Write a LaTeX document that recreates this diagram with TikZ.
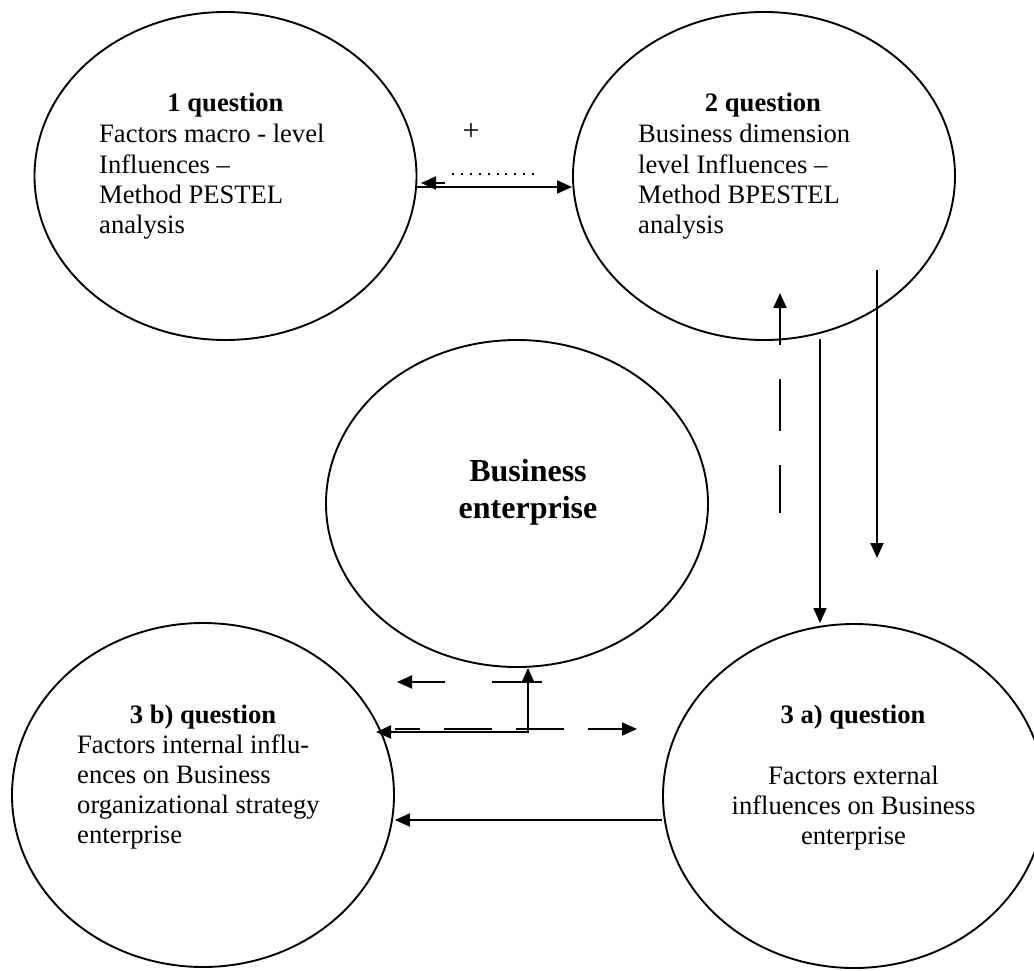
\documentclass[tikz,border=0pt]{standalone}
\usepackage{fontspec}
\setmainfont{Liberation Serif}
\usetikzlibrary{shapes.geometric,arrows.meta}
\newcommand{\bodyfs}{\fontsize{26.6}{30.3}\selectfont}
\begin{document}
\begin{tikzpicture}[x=1pt,y=-1pt,
  ell/.style={draw, ellipse, line width=1.9pt, inner sep=0pt, minimum width=382pt},
  tip/.style={-{Triangle[length=15pt,width=13pt]}},
  arr/.style={line width=1.9pt, tip},
  hd/.style={anchor=base, inner sep=0pt, font=\bodyfs\bfseries},
  bd/.style={anchor=base west, inner sep=0pt, font=\bodyfs},
  bdc/.style={anchor=base, inner sep=0pt, font=\bodyfs}]
\useasboundingbox (0,0) rectangle (1034,971);
\clip (0,0) rectangle (1034,971);
% ellipses
\node[ell, minimum height=328pt] (e1) at (225.5,176) {};
\node[ell, minimum height=328pt] (e2) at (764,176) {};
\node[ell, minimum height=327pt] (e3) at (517,503.5) {};
\node[ell, minimum height=344pt] (e4) at (203,795) {};
\node[ell, minimum height=344pt] (e5) at (854,796) {};
% texts
\node[hd] (h1) at (225.5,112) {1 question};
\node[bd] (t1) at (99,143) {\begin{tabular}[t]{@{}l@{}}Factors macro - level\\Influences --\\Method PESTEL\\analysis\end{tabular}};
\node[hd] (h2) at (763,112) {2 question};
\node[bd] (t2) at (638,143) {\begin{tabular}[t]{@{}l@{}}Business dimension\\level Influences --\\Method BPESTEL\\analysis\end{tabular}};
\node[anchor=base, inner sep=0pt, font=\fontsize{32}{37}\selectfont\bfseries] (t3) at (528,481) {\begin{tabular}[t]{@{}c@{}}Business\\enterprise\end{tabular}};
\node[hd] (h4) at (203,723) {3 b) question};
\node[bd] (t4) at (77,753) {\begin{tabular}[t]{@{}l@{}}Factors internal influ-\\ences on Business\\organizational strategy\\enterprise\end{tabular}};
\node[hd] (h5) at (853,723) {3 a) question};
\node[bdc] (t5) at (853.5,784) {\begin{tabular}[t]{@{}c@{}}Factors external\\influences on Business\\enterprise\end{tabular}};
\node[inner sep=0pt, font=\fontsize{30}{34}\selectfont] (plus) at (471,132) {+};
% top connectors
\draw[arr] (e1.east |- 0,187) -- (e2.west |- 0,187);
\coordinate (ls) at (445,183);
\coordinate (lt) at (421,183);
\draw[arr] (ls) -- (lt);
\coordinate (dA) at (452,174);
\coordinate (dB) at (535,174);
\draw[line width=2pt, dash pattern=on 2pt off 6.9pt] (dA) -- (dB);
% vertical connectors
\coordinate (u0) at (780,513);
\coordinate (u1) at (780,293);
\draw[arr, dash pattern=on 52pt off 34pt, dash phase=4pt] (u0) -- (u1);
\coordinate (d0) at (820,339);
\draw[arr] (d0) -- (d0 |- e5.north);
\coordinate (g0) at (877,270);
\coordinate (g1) at (877,558);
\draw[arr] (g0) -- (g1);
% bottom middle connectors
\coordinate (elb) at (528,732);
\coordinate (w1) at (376,732);
\draw[line width=1.9pt, {Triangle[length=15pt,width=13pt]}-{Triangle[length=15pt,width=13pt]}] (w1) -- (elb) -- (elb |- e3.south);
\coordinate (hA) at (395,729);
\coordinate (hB) at (637,729);
\draw[arr, dash pattern=on 48pt off 24pt, dash phase=23pt] (hA) -- (hB);
\coordinate (kA) at (542,682);
\coordinate (kB) at (397,682);
\draw[arr, dash pattern=on 50pt off 47pt] (kA) -- (kB);
% bottom connector
\draw[arr] (e5.west |- 0,820) -- (e4.east |- 0,820);
\end{tikzpicture}
\end{document}
